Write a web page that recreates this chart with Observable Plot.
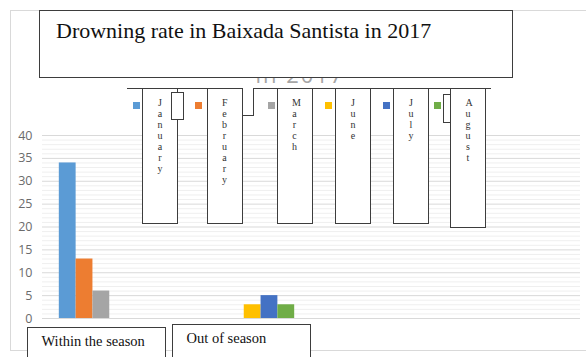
<!DOCTYPE html>
<html>
<head>
<meta charset="utf-8">
<script src="https://cdn.jsdelivr.net/npm/d3@7"></script>
<script src="https://cdn.jsdelivr.net/npm/@observablehq/plot@0.6"></script>
<style>
  body { margin: 0; background: #fff; }
  #chart { position: relative; width: 586px; height: 357px; overflow: hidden; font-family: "Liberation Serif", "Times New Roman", serif; }
  #chart svg { position: absolute; left: 0; top: 0; }
  .abs { position: absolute; box-sizing: border-box; }
  .frame { border: 1px solid #d9d9d9; }
  .box { background: #fff; border: 1.3px solid #3d3d3d; }
  .line-h { border-top: 1.3px solid #3d3d3d; height: 0; }
  .line-v { border-left: 1.3px solid #3d3d3d; width: 0; }
  .vlabel { font-size: 10px; line-height: 11px; color: #333; text-align: center; }
  .vlabel span { display: inline-block; width: 1ch; word-break: break-all; }
  .swatch { width: 7px; height: 7px; }
</style>
</head>
<body>
<div id="chart"></div>
<script>
// Drowning counts per month, split by bathing season
const title = "Drowning rate in Baixada Santista in 2017";
const seasons = ["Within the season", "Out of season"];
const months = ["January", "February", "March", "June", "July", "August"];
const monthColors = ["#5B9BD5", "#ED7D31", "#A5A5A5", "#FFC000", "#4472C4", "#70AD47"];
const withinSeason = [34, 13, 6, 0, 0, 0];
const outOfSeason = [0, 0, 0, 3, 5, 3];
const yTicks = [0, 5, 10, 15, 20, 25, 30, 35, 40];

// Clustered-column layout: each category holds one slot per month plus a gap
// (200% gap width) and the category axis keeps room for four clusters.
const gapSlots = 2;
const clusterSlots = months.length + gapSlots;
const categorySlots = 4;
const seriesBySeason = [withinSeason, outOfSeason];

const rows = seasons.flatMap((season, si) =>
  months.map((month, mi) => {
    const x1 = si * clusterSlots + gapSlots / 2 + mi;
    return { season, month, value: seriesBySeason[si][mi], x1, x2: x1 + 1 };
  })
);

const minorTicks = d3.range(0, 41).filter(v => v % 5 !== 0);

const chart = document.getElementById("chart");

function el(cls, css, text) {
  const d = document.createElement("div");
  d.className = "abs " + cls;
  Object.assign(d.style, css);
  if (text != null) d.textContent = text;
  chart.appendChild(d);
  return d;
}

// outer chart area
el("frame", { left: "10px", top: "10px", width: "600px", height: "341px" });

const plot = Plot.plot({
  width: 586,
  height: 357,
  marginTop: 135,
  marginBottom: 39,
  marginLeft: 42,
  marginRight: 6,
  style: { background: "transparent" },
  x: { type: "linear", domain: [0, categorySlots * clusterSlots], axis: null },
  y: { domain: [0, 40], axis: null },
  color: { domain: months, range: monthColors },
  marks: [
    Plot.ruleY(minorTicks, { stroke: "#efefef", strokeWidth: 1 }),
    Plot.ruleY(yTicks, { stroke: "#d9d9d9", strokeWidth: 1 }),
    Plot.rect(rows, { x1: "x1", x2: "x2", y1: () => 0, y2: "value", fill: "month" }),
    Plot.text(yTicks, {
      y: d => d, text: d => String(d), frameAnchor: "left", textAnchor: "end",
      dx: -10, fill: "#6b6b6b", fontSize: 12.5, fontFamily: "Open Sans, sans-serif"
    })
  ]
});
chart.appendChild(plot);

// chart title from the charting tool, mostly covered by the title text box
el("", { left: "200px", width: "200px", top: "61px", textAlign: "center", color: "#a6a6a6",
  fontFamily: "Open Sans, sans-serif", fontSize: "22px", lineHeight: "26px", letterSpacing: "2px" }, "in 2017");

// title text box
el("box", { left: "39px", top: "10px", width: "474px", height: "67.5px" });
el("", { left: "56px", top: "16px", fontSize: "22px", lineHeight: "30px", color: "#111", whiteSpace: "nowrap" }, title);

// legend swatches
const swatchX = [133, 195, 268, 325, 383, 434];
months.forEach((m, i) => {
  el("swatch", { left: swatchX[i] + "px", top: "101.5px", background: monthColors[i] });
});

// outline of the legend text boxes
el("line-h", { left: "127px", top: "88px", width: "115.5px" });
el("line-h", { left: "253px", top: "88px", width: "238px" });
el("line-h", { left: "241.5px", top: "114.5px", width: "12.5px" });
el("line-v", { left: "253px", top: "88px", height: "27.5px" });

// one narrow text box per month, its name wrapping one letter per line
const labelLeft = [142, 206.5, 276.5, 335, 393, 450];
const labelBottom = [223.5, 224, 224, 224, 223.5, 227.5];
months.forEach((m, i) => {
  const b = el("box vlabel", {
    left: labelLeft[i] + "px", top: "88px", width: "36px",
    height: (labelBottom[i] - 88) + "px", paddingTop: "7.5px"
  });
  const s = document.createElement("span");
  s.textContent = m;
  b.appendChild(s);
});

// small empty text boxes
el("box", { left: "171px", top: "91.5px", width: "12.5px", height: "28px" });
el("box", { left: "443px", top: "94px", width: "7.5px", height: "28.5px" });

// category labels
el("box", { left: "27px", top: "326.5px", width: "138.5px", height: "45px" });
el("", { left: "41.5px", top: "331px", fontSize: "14.5px", lineHeight: "20px", color: "#111", whiteSpace: "nowrap" }, seasons[0]);
el("box", { left: "172px", top: "324px", width: "138.5px", height: "45px" });
el("", { left: "186.5px", top: "328px", fontSize: "14.5px", lineHeight: "20px", color: "#111", whiteSpace: "nowrap" }, seasons[1]);
</script>
</body>
</html>
